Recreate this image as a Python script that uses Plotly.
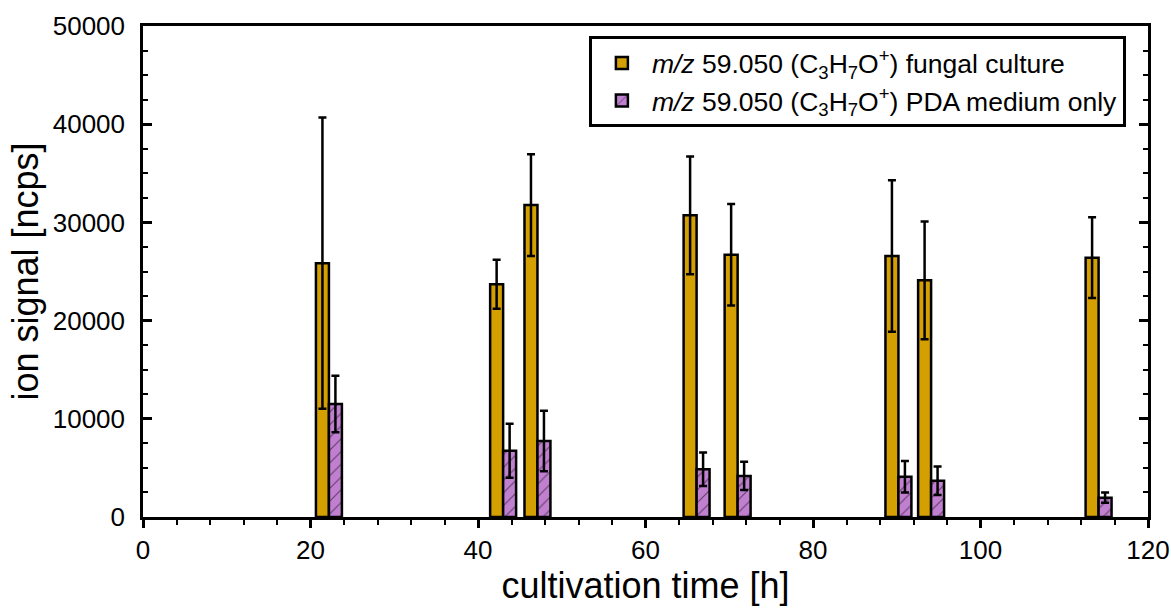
import plotly.graph_objects as go

# cultivation time (group centres, h)
times = [22.2, 43.0, 47.1, 66.1, 71.0, 90.2, 94.1, 114.1]
fungal = [25850, 23700, 31770, 30720, 26710, 26580, 24100, 26410]
fungal_err = [14830, 2500, 5180, 6000, 5160, 7720, 6000, 4120]
pda = [11510, 6750, 7740, 4860, 4180, 4100, 3700, 1970]
pda_err = [2880, 2750, 3080, 1700, 1440, 1600, 1450, 520]

label_f = "<i>m/z</i> 59.050 (C<sub>3</sub>H<sub>7</sub>O<sup>+</sup>) fungal culture"
label_p = "<i>m/z</i> 59.050 (C<sub>3</sub>H<sub>7</sub>O<sup>+</sup>) PDA medium only"

bw = 1.55
fig = go.Figure()
fig.add_trace(go.Bar(
    x=times, y=fungal, width=bw, offset=-bw, name=label_f,
    marker=dict(color="#D49F00", line=dict(color="black", width=2.5)),
    error_y=dict(type="data", array=fungal_err, visible=True, color="black", thickness=2.5, width=4),
))
fig.add_trace(go.Bar(
    x=times, y=pda, width=bw, offset=0, name=label_p,
    marker=dict(color="#C17FD0", line=dict(color="black", width=2.5),
                pattern=dict(shape="/", fgcolor="black", bgcolor="#C17FD0", size=9, solidity=0.12)),
    error_y=dict(type="data", array=pda_err, visible=True, color="black", thickness=2.5, width=4),
))

font = "Liberation Sans, Arial, sans-serif"
fig.update_layout(
    width=1171, height=614,
    margin=dict(l=143, r=23, t=26, b=97),
    barmode="overlay",
    plot_bgcolor="white", paper_bgcolor="white",
    font=dict(family=font, color="black", size=26),
    showlegend=True,
    legend=dict(x=0.978, y=0.979, xanchor="right", yanchor="top",
                bordercolor="black", borderwidth=3, bgcolor="white",
                font=dict(size=26.5), tracegroupgap=0, itemwidth=50),
    xaxis=dict(range=[0, 120], dtick=20, tick0=0, showline=True, linecolor="black", linewidth=2.5,
               mirror=True, ticks="outside", ticklen=8, tickwidth=2.5, tickcolor="black",
               minor=dict(dtick=4, ticks="outside", ticklen=5, tickwidth=2, tickcolor="black"),
               showgrid=False, zeroline=False, automargin=False,
               tickfont=dict(size=26),
               title=dict(text="cultivation time [h]", font=dict(size=36), standoff=0)),
    yaxis=dict(range=[0, 50000], dtick=10000, tick0=0, tickformat="d",
               showline=True, linecolor="black", linewidth=2.5,
               mirror="ticks", ticks="inside", ticklen=9, tickwidth=2.5, tickcolor="black",
               minor=dict(dtick=2500, ticks="inside", ticklen=5, tickwidth=2, tickcolor="black"),
               showgrid=False, zeroline=False, automargin=False,
               ticklabelstandoff=10,
               tickfont=dict(size=26),
               title=dict(text="ion signal [ncps]", font=dict(size=36), standoff=4)),
)

fig.write_html("out.html", config={"displayModeBar": False},
               post_script="document.body.style.margin='0px';document.body.style.overflow='hidden';")
